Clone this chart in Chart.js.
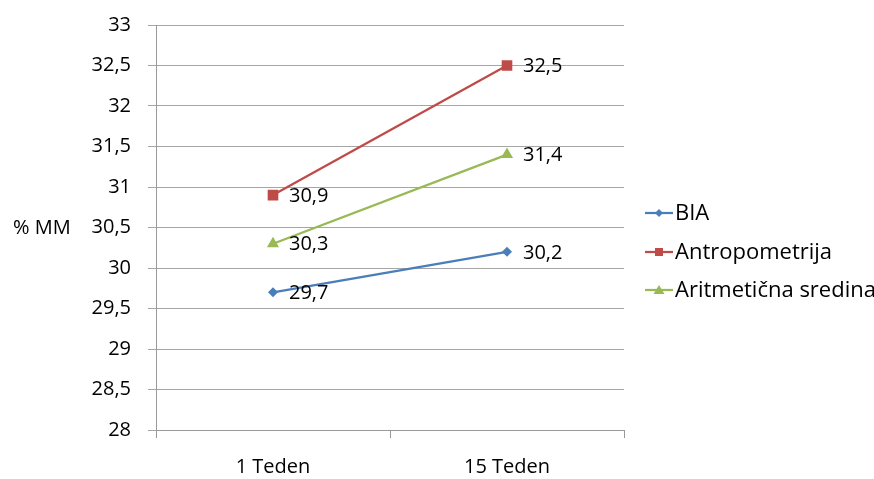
<!DOCTYPE html>
<html>
<head>
<meta charset="utf-8">
<script src="https://cdn.jsdelivr.net/npm/chart.js@4/dist/chart.umd.min.js"></script>
<style>
html,body{margin:0;padding:0;background:#fff;}
#wrap{width:874px;height:479px;}
</style>
</head>
<body>
<div id="wrap"><canvas id="c" width="874" height="479"></canvas></div>
<script>
const categories = ["1 Teden", "15 Teden"];
const seriesNames = ["BIA", "Antropometrija", "Aritmetična sredina"];
const biaValues = [29.7, 30.2];
const antropometrijaValues = [30.9, 32.5];
const aritmeticnaValues = [30.3, 31.4];
const yTicks = [28, 28.5, 29, 29.5, 30, 30.5, 31, 31.5, 32, 32.5, 33];
const yTitle = "% MM";

const FONT = "'Open Sans', Lato, sans-serif";
const colors = ["#4A7EBB", "#BE4B48", "#98B954"];
const styles = ["rectRot", "rect", "triangle"];
const radii = [5, 7.5, 7];

const dataArrays = [biaValues, antropometrijaValues, aritmeticnaValues];
const datasets = seriesNames.map((n, i) => ({
  label: n,
  data: dataArrays[i],
  borderColor: colors[i],
  backgroundColor: colors[i],
  borderWidth: 2.25,
  pointStyle: styles[i],
  pointRadius: radii[i],
  pointBorderWidth: 0,
  pointBackgroundColor: colors[i],
  tension: 0
}));

const fmt = v => String(v).replace('.', ',');

function drawMarker(ctx, style, x, y, color, r) {
  ctx.fillStyle = color;
  ctx.beginPath();
  if (style === 'rectRot') { ctx.moveTo(x, y - r); ctx.lineTo(x + r, y); ctx.lineTo(x, y + r); ctx.lineTo(x - r, y); }
  else if (style === 'rect') { ctx.rect(x - r, y - r, 2 * r, 2 * r); }
  else { ctx.moveTo(x, y - r); ctx.lineTo(x + r * 1.1, y + r * 0.8); ctx.lineTo(x - r * 1.1, y + r * 0.8); }
  ctx.closePath();
  ctx.fill();
}

const labelPlugin = {
  id: 'labels',
  afterDatasetsDraw(chart) {
    const ctx = chart.ctx;
    ctx.save();
    ctx.font = "20px " + FONT;
    ctx.fillStyle = "#000";
    ctx.textBaseline = 'middle';
    ctx.textAlign = 'left';
    chart.data.datasets.forEach((ds, i) => {
      const meta = chart.getDatasetMeta(i);
      meta.data.forEach((pt, j) => {
        ctx.fillText(fmt(ds.data[j]), pt.x + 16, pt.y + 1);
      });
    });
    // y axis title (horizontal)
    ctx.fillText(yTitle, 13, 228);
    // legend
    const lx = chart.chartArea.right + 21;
    const rows = [213, 252, 290];
    ctx.font = "22px " + FONT;
    chart.data.datasets.forEach((ds, i) => {
      const y = rows[i];
      ctx.strokeStyle = ds.borderColor;
      ctx.lineWidth = 2.25;
      ctx.beginPath(); ctx.moveTo(lx, y); ctx.lineTo(lx + 28, y); ctx.stroke();
      drawMarker(ctx, styles[i], lx + 14, y, ds.borderColor, [4, 4, 5][i]);
      ctx.fillStyle = "#000";
      ctx.fillText(ds.label, lx + 30, y + 1);
    });
    ctx.restore();
  }
};

new Chart(document.getElementById('c'), {
  type: 'line',
  data: { labels: categories, datasets },
  plugins: [labelPlugin],
  options: {
    responsive: false,
    animation: false,
    layout: { padding: { left: 0, top: 25, right: 250, bottom: 0 } },
    plugins: {
      tooltip: { enabled: false },
      legend: { display: false }
    },
    scales: {
      x: {
        offset: true,
        afterFit(scale) { scale.height = 49; scale.paddingLeft = 0; scale.paddingRight = 0; },
        grid: { drawOnChartArea: false, offset: true, tickLength: 8, color: "#999" },
        border: { color: "#999" },
        ticks: { font: { size: 20, family: FONT }, color: "#000", padding: 17 }
      },
      y: {
        min: 28, max: 33,
        afterBuildTicks(scale) { scale.ticks = yTicks.map(v => ({ value: v })); },
        afterFit(scale) { scale.width = 156; scale.paddingTop = 0; scale.paddingBottom = 0; },
        grid: { color: "#a6a6a6", tickLength: 8 },
        border: { color: "#999" },
        ticks: {
          font: { size: 20, family: FONT }, color: "#000", padding: 17,
          callback: v => fmt(v)
        }
      }
    }
  }
});
</script>
</body>
</html>
